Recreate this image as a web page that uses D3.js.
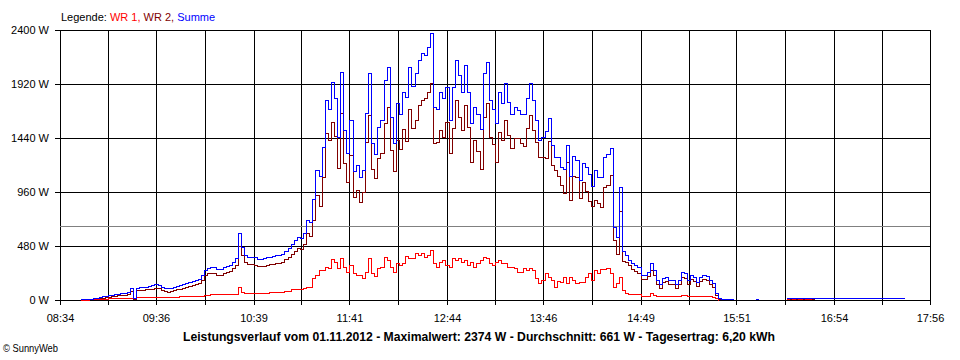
<!DOCTYPE html>
<html><head><meta charset="utf-8">
<script src="https://cdn.jsdelivr.net/npm/d3@7"></script>
<style>
body{margin:0;background:#fff}
svg{display:block}
text{font-family:"Liberation Sans",Arial,sans-serif}
</style>
</head><body>
<svg id="chart" width="960" height="360"></svg>
<script>
// ---------- data ----------
const startTime = "08:47";
const stepMinutes = 2;
const seriesNames = ["WR 1", "WR 2", "Summe"];
const legendTitle = "Legende:";
const yTickValues = [0, 480, 960, 1440, 1920, 2400];
const xTickLabels = ["08:34","09:36","10:39","11:41","12:44","13:46","14:49","15:51","16:54","17:56"];
const averageWatts = 661;
const titleText = "Leistungsverlauf vom 01.11.2012 - Maximalwert: 2374 W - Durchschnitt: 661 W - Tagesertrag: 6,20 kWh";
const copyrightText = "\u00A9 SunnyWeb";

// Summe (total) in W, every 2 minutes from 08:47
const summe = [
  8,10,10,12,14,20,26,32,38,44,
  48,52,56,60,64,72,105,20,110,112,
  115,120,124,130,138,135,119,110,104,108,
  118,128,134,140,150,156,166,176,188,220,
  265,281,290,290,278,273,290,300,310,340,
  370,600,470,400,385,380,378,365,364,372,
  379,385,392,398,404,412,440,460,500,533,
  560,550,600,711,690,900,1156,1100,1363,1780,
  1700,1941,1800,1452,2030,1511,1304,1600,1150,1200,
  1096,1156,1659,2015,1400,1300,1541,1600,1956,2074,
  1630,1400,1748,1650,1850,1807,2070,1900,2015,2133,
  2193,2180,2252,2370,1719,1700,1850,1800,1896,1600,
  1896,2133,2000,1850,2090,1850,1570,1719,1650,1520,
  2015,2119,1778,1700,1570,1850,1750,1930,1760,1650,
  1719,1689,1650,1650,1800,1926,1778,1600,1422,1452,
  1500,1620,1380,1274,1270,1185,1160,1378,1100,1280,
  1244,1067,1215,1180,1120,1010,1156,1096,1096,1274,
  1300,1348,650,560,1000,440,400,360,330,311,
  296,222,222,252,326,267,178,140,193,207,
  178,178,140,180,252,237,178,222,207,163,
  207,222,215,180,148,60,15,12,10,10,
  10,10,null,null,null,null,null,null,6,6,
  null,null,null,null,null,null,null,null,22,22,
  22,22,22,22,22,22,22,15,15,15,
  15,15,15,15,15,15,15,15,15,15,
  15,15,15,15,15,15,15,15,15,20,
  15,15,15,15,15,20,15
];

// WR 1 in W, same time grid
const wr1 = [
  3,3,4,5,5,6,8,10,12,15,
  15,15,15,16,18,20,22,15,24,24,
  24,24,26,28,30,30,30,30,30,30,
  30,30,32,32,32,34,34,36,38,40,
  44,44,50,53,53,53,53,53,55,55,
  55,119,68,66,66,64,64,65,66,66,
  66,68,68,70,72,72,76,80,95,101,
  101,95,104,119,119,193,222,267,267,296,
  282,361,341,282,370,296,252,311,237,222,
  222,193,252,370,237,213,282,296,379,355,
  296,252,326,311,326,391,370,370,415,400,
  415,385,400,444,326,296,341,355,311,296,
  370,355,370,341,355,311,341,296,326,355,
  385,370,326,311,341,355,326,326,296,296,
  282,252,252,282,267,282,267,193,148,178,
  237,207,178,119,170,163,207,148,207,178,
  148,163,163,207,237,178,267,237,273,273,
  282,237,119,150,207,89,65,53,53,53,
  53,36,36,36,59,44,36,36,36,36,
  36,36,36,36,44,44,38,38,38,38,
  38,38,38,38,30,15,3,null,null,null,
  null,null,null,null,null,null,null,null,null,null,
  null,null,null,null,null,null,null,null,12,15,
  10,15,12,15,12,12,12
];

// ---------- build ----------
const toMin = s => { const [h, m] = s.split(":").map(Number); return h * 60 + m; };
const t0 = toMin(startTime);
const rows = summe.map((s, i) => {
  const a = wr1[i] ?? null;
  return { t: t0 + i * stepMinutes, wr1: a, summe: s, wr2: s == null ? null : s - (a ?? 0) };
});

const svg = d3.select("#chart");
const pL = 60, pR = 930, pT = 30, pB = 300;
const labelTimes = xTickLabels.map(toMin);
const x = d3.scaleLinear().domain([labelTimes[0], labelTimes[labelTimes.length - 1]]).range([pL, pR]);
const y = d3.scaleLinear().domain([0, 2400]).range([pB, pT]);

const tickTimes = [];
labelTimes.forEach((t, i) => {
  tickTimes.push(t);
  if (i < labelTimes.length - 1) tickTimes.push((t + labelTimes[i + 1]) / 2);
});
const labelMap = new Map(labelTimes.map((t, i) => [t, xTickLabels[i]]));

// y grid + labels
const gy = svg.append("g").attr("transform", `translate(${pR},0)`)
  .call(d3.axisLeft(y).tickValues(yTickValues).tickSize(pR - pL + 5).tickSizeOuter(0).tickPadding(6)
    .tickFormat(d => d + " W"));
gy.attr("font-family", "Liberation Sans, Arial, sans-serif").attr("font-size", 11);
gy.selectAll("line").attr("stroke", "#000").attr("shape-rendering", "crispEdges");
gy.select(".domain").attr("stroke", "#000").attr("shape-rendering", "crispEdges");
gy.selectAll("text").attr("fill", "#000").attr("dy", "0.36em");

// x grid + labels
const gx = svg.append("g").attr("transform", `translate(0,${pT})`)
  .call(d3.axisBottom(x).tickValues(tickTimes).tickSize(pB - pT + 5).tickSizeOuter(0).tickPadding(9)
    .tickFormat(d => labelMap.get(d) || ""));
gx.attr("font-family", "Liberation Sans, Arial, sans-serif").attr("font-size", 11);
gx.selectAll("line").attr("stroke", "#000").attr("shape-rendering", "crispEdges");
gx.select(".domain").attr("stroke", "#000").attr("shape-rendering", "crispEdges");
gx.selectAll("text").attr("fill", "#000");

// average line
svg.append("line")
  .attr("x1", pL).attr("x2", pR)
  .attr("y1", Math.round(y(averageWatts)) + 0.5).attr("y2", Math.round(y(averageWatts)) + 0.5)
  .attr("stroke", "#808080").attr("stroke-width", 1).attr("shape-rendering", "crispEdges");

// series lines
const colors = { wr1: "#ff0000", wr2: "#800000", summe: "#0000ff" };
const keys = ["wr2", "wr1", "summe"];
keys.forEach(k => {
  const line = d3.line()
    .defined(d => d[k] != null)
    .x(d => Math.round(x(d.t)) + 0.5)
    .y(d => Math.round(y(d[k])) + 0.5)
    .curve(d3.curveStepAfter);
  svg.append("path").datum(rows)
    .attr("d", line)
    .attr("fill", "none")
    .attr("stroke", colors[k])
    .attr("stroke-width", 1)
    .attr("shape-rendering", "crispEdges");
});

// legend
const leg = svg.append("text").attr("x", 61).attr("y", 20.5).attr("font-size", 11);
leg.append("tspan").attr("fill", "#000").text(legendTitle + " ");
const legColors = [colors.wr1, colors.wr2, colors.summe];
seriesNames.forEach((n, i) => {
  leg.append("tspan").attr("fill", legColors[i]).text(n + (i < seriesNames.length - 1 ? ", " : ""));
});

// title
svg.append("text").attr("x", 183).attr("y", 341)
  .attr("font-size", 12).attr("font-weight", "bold").attr("fill", "#000")
  .attr("textLength", 592).attr("lengthAdjust", "spacingAndGlyphs")
  .text(titleText);

// copyright
svg.append("text").attr("x", 3).attr("y", 351.5)
  .attr("font-size", 10.5).attr("fill", "#000")
  .attr("textLength", 55).attr("lengthAdjust", "spacingAndGlyphs")
  .text(copyrightText);
</script>
</body></html>
